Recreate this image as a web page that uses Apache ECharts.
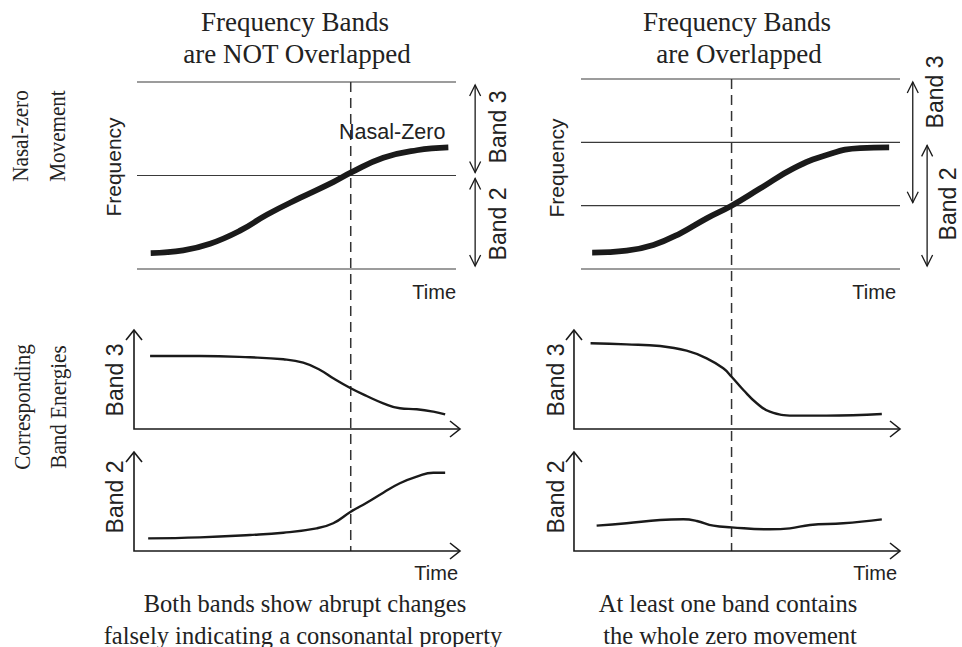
<!DOCTYPE html>
<html>
<head>
<meta charset="utf-8">
<script src="https://cdn.jsdelivr.net/npm/echarts@6/dist/echarts.min.js"></script>
<style>
  html, body { margin: 0; padding: 0; background: #fff; }
  #chart { width: 962px; height: 647px; }
</style>
</head>
<body>
<div id="chart"></div>
<script>
// ---- Data -------------------------------------------------------------
// Time runs 0..100 across each frequency panel.

// Left column: frequency bands are NOT overlapped (frequency in band units 0..2)
const zeroTimeA = [4.3, 14.5, 22.9, 32.3, 40.7, 51.1, 61.5, 67.0, 77.2, 87.7, 97.6];
const zeroFreqA = [0.17, 0.20, 0.27, 0.41, 0.58, 0.76, 0.93, 1.03, 1.19, 1.27, 1.30];
const bandEdgesA = [0, 1, 2];
const band2RangeA = [0, 1];
const band3RangeA = [1, 2];
const zeroCrossA = 67.0;

// Right column: frequency bands are overlapped (frequency in band units 0..3)
const zeroTimeB = [3.5, 14.3, 22.7, 31.0, 39.4, 47.2, 56.1, 66.6, 77.0, 87.5, 96.6];
const zeroFreqB = [0.26, 0.29, 0.38, 0.56, 0.80, 1.00, 1.27, 1.59, 1.80, 1.91, 1.92];
const bandEdgesB = [0, 1, 2, 3];
const band2RangeB = [0, 2];
const band3RangeB = [1, 3];
const zeroCrossB = 47.2;

// Band energies (0..1), left column
const energyTimeA3 = [4.1, 19.7, 35.4, 45.9, 52.1, 57.4, 61.5, 67.0, 72.0, 77.2, 82.4, 87.7, 92.9, 96.6];
const energyA3     = [0.737, 0.737, 0.724, 0.704, 0.67, 0.596, 0.512, 0.411, 0.333, 0.26, 0.209, 0.199, 0.175, 0.148];
const energyTimeA2 = [3.5, 19.7, 35.4, 45.9, 56.3, 61.5, 67.0, 72.0, 77.2, 82.4, 87.7, 92.9, 96.6];
const energyA2     = [0.128, 0.138, 0.162, 0.185, 0.229, 0.28, 0.397, 0.488, 0.589, 0.684, 0.751, 0.791, 0.791];

// Band energies (0..1), right column
const energyTimeB3 = [3.0, 14.3, 24.8, 33.1, 39.4, 44.6, 47.2, 50.9, 55.1, 59.2, 66.6, 77.0, 94.3];
const energyB3     = [0.866, 0.855, 0.838, 0.791, 0.714, 0.613, 0.528, 0.394, 0.26, 0.175, 0.135, 0.135, 0.152];
const energyTimeB2 = [4.9, 14.3, 24.8, 32.1, 36.3, 41.5, 47.2, 59.2, 65.5, 71.8, 82.2, 94.3];
const energyB2     = [0.256, 0.28, 0.313, 0.32, 0.303, 0.256, 0.239, 0.219, 0.229, 0.263, 0.28, 0.32];

// ---- Layout -----------------------------------------------------------
const INK = '#1a1a1a';
const RULE = '#3a3a3a';
const SERIF = '"Liberation Serif", "Times New Roman", serif';
const SANS = '"Liberation Sans", Arial, sans-serif';

const PX_PER_T = 3.19;                 // horizontal scale shared by every panel
const columns = {
  A: { t0: 137, axisT: -0.94, tipT: 101.25 },   // pixel of t = 0, energy-axis origin and tip
  B: { t0: 581, axisT: -2.2,  tipT: 100 }
};
// each panel: column, x range, y range, pixel row of y = 0 and vertical scale
function panel(col, x, y, yZeroPx, pxPerY) {
  const c = columns[col];
  return {
    col: col, x: x, y: y,
    left: c.t0 + x[0] * PX_PER_T,
    width: (x[1] - x[0]) * PX_PER_T,
    top: yZeroPx - y[1] * pxPerY,
    height: (y[1] - y[0]) * pxPerY
  };
}
const ePad = [-0.1, 1.03];
const grids = [
  panel('A', [0, 112], [0, 2], 269, 93.5),
  panel('B', [0, 112], [0, 3], 269, 63.33),
  panel('A', [columns.A.axisT - 4, columns.A.tipT + 0.5], ePad, 429, 99),
  panel('A', [columns.A.axisT - 4, columns.A.tipT + 0.5], ePad, 551, 99),
  panel('B', [columns.B.axisT - 4, columns.B.tipT + 0.5], ePad, 429, 99),
  panel('B', [columns.B.axisT - 4, columns.B.tipT + 0.5], ePad, 551, 99)
];
// horizontal position (time units) of the band arrows beside each frequency panel
const bandArrowX = { A: { b3: 106, b2: 106 }, B: { b3: 104, b2: 108.5 } };

const zip = (xs, ys) => xs.map((x, i) => [x, ys[i]]);
const perPx = g => [(g.x[1] - g.x[0]) / g.width, (g.y[1] - g.y[0]) / g.height];

// open chevron arrowhead, sizes given in pixels
function chevron(gi, tip, dir, len, half) {
  const [kx, ky] = perPx(grids[gi]);
  const [x, y] = tip;
  if (dir === 'right') return [[x - len * kx, y + half * ky], [x, y], [x - len * kx, y - half * ky]];
  if (dir === 'up')    return [[x - half * kx, y - len * ky], [x, y], [x + half * kx, y - len * ky]];
  return [[x - half * kx, y + len * ky], [x, y], [x + half * kx, y + len * ky]];
}

function poly(gi, pts, width, color) {
  return {
    type: 'line', xAxisIndex: gi, yAxisIndex: gi, data: pts,
    symbol: 'none', showSymbol: false, clip: false, silent: true,
    lineStyle: { color: color || INK, width: width, join: 'miter' }, z: 3
  };
}

function curve(gi, pts, width) {
  return {
    type: 'line', xAxisIndex: gi, yAxisIndex: gi, data: pts,
    smooth: 0.45, symbol: 'none', showSymbol: false, silent: true,
    lineStyle: { color: INK, width: width, cap: 'butt' }, z: 4
  };
}

// double-headed band arrow beside a frequency panel
function bandArrow(gi, x, range) {
  const ky = perPx(grids[gi])[1];
  const lo = range[0] + 3 * ky, hi = range[1] - 3 * ky;
  return [
    poly(gi, [[x, lo], [x, hi]], 1.3),
    poly(gi, chevron(gi, [x, hi], 'up', 11, 5.5), 1.3),
    poly(gi, chevron(gi, [x, lo], 'down', 11, 5.5), 1.3)
  ];
}

// horizontal band edges across a frequency panel
function bandEdgeLines(gi, edges) {
  return edges.map(v => poly(gi, [[0, v], [100, v]], 1.2, RULE));
}

// L-shaped energy axes with open arrowheads
function energyAxes(gi) {
  const c = columns[grids[gi].col];
  return [
    poly(gi, [[c.axisT, 1], [c.axisT, 0], [c.tipT, 0]], 1.6),
    poly(gi, chevron(gi, [c.tipT, 0], 'right', 10, 8), 1.6),
    poly(gi, chevron(gi, [c.axisT, 1], 'up', 10, 8), 1.6)
  ];
}

const hiddenAxis = (g, gi, key) => ({
  type: 'value', gridIndex: gi, min: g[key][0], max: g[key][1], show: false,
  axisLine: { show: false }, axisTick: { show: false }, axisLabel: { show: false }, splitLine: { show: false }
});

const series = [
  curve(0, zip(zeroTimeA, zeroFreqA), 5.8),
  curve(1, zip(zeroTimeB, zeroFreqB), 5.8),
  curve(2, zip(energyTimeA3, energyA3), 2.4),
  curve(3, zip(energyTimeA2, energyA2), 2.4),
  curve(4, zip(energyTimeB3, energyB3), 2.4),
  curve(5, zip(energyTimeB2, energyB2), 2.4),
  ...bandEdgeLines(0, bandEdgesA),
  ...bandEdgeLines(1, bandEdgesB),
  ...bandArrow(0, bandArrowX.A.b3, band3RangeA),
  ...bandArrow(0, bandArrowX.A.b2, band2RangeA),
  ...bandArrow(1, bandArrowX.B.b3, band3RangeB),
  ...bandArrow(1, bandArrowX.B.b2, band2RangeB),
  ...energyAxes(2), ...energyAxes(3), ...energyAxes(4), ...energyAxes(5)
];

// ---- Text -------------------------------------------------------------
function txt(text, x, y, font, opts) {
  opts = opts || {};
  return {
    type: 'text', x: x, y: y, rotation: opts.rot ? Math.PI / 2 : 0,
    scaleX: opts.squeeze || 1, silent: true, z: 10,
    style: {
      text: text, font: font, fill: '#222',
      textAlign: opts.align || 'center', textVerticalAlign: 'middle'
    }
  };
}
const titleFont = '27px ' + SERIF;
const rowFont = '24px ' + SERIF;
const capFont = '24.5px ' + SERIF;
const axFont = '21px ' + SANS;
const zeroFont = '21.5px ' + SANS;
const bandFont = '23px ' + SANS;
const timeFont = '20px ' + SANS;
const rowText = { rot: true, squeeze: 0.88 };

const texts = [
  txt('Frequency Bands', 295, 22, titleFont),
  txt('are NOT Overlapped', 297, 54, titleFont),
  txt('Frequency Bands', 737, 22, titleFont),
  txt('are Overlapped', 739, 54, titleFont),

  txt('Nasal-zero', 20, 136, rowFont, rowText),
  txt('Movement', 57, 136, rowFont, rowText),
  txt('Corresponding', 22, 407, rowFont, rowText),
  txt('Band Energies', 58, 407, rowFont, rowText),

  txt('Both bands show abrupt changes', 305, 603, capFont),
  txt('falsely indicating a consonantal property', 303, 635, capFont),
  txt('At least one band contains', 728, 603, capFont),
  txt('the whole zero movement', 730, 635, capFont),

  txt('Frequency', 113, 167, axFont, { rot: true }),
  txt('Frequency', 556, 168, axFont, { rot: true }),
  txt('Nasal-Zero', 339, 132, zeroFont, { align: 'left' }),

  txt('Time', 456, 292, timeFont, { align: 'right' }),
  txt('Time', 896, 292, timeFont, { align: 'right' }),
  txt('Time', 458, 573, timeFont, { align: 'right' }),
  txt('Time', 897, 573, timeFont, { align: 'right' }),

  txt('Band 3', 498, 127, bandFont, { rot: true }),
  txt('Band 2', 498, 224, bandFont, { rot: true }),
  txt('Band 3', 935, 92, bandFont, { rot: true }),
  txt('Band 2', 948, 204, bandFont, { rot: true }),
  txt('Band 3', 115, 380, bandFont, { rot: true }),
  txt('Band 2', 115, 497, bandFont, { rot: true }),
  txt('Band 3', 556, 380, bandFont, { rot: true }),
  txt('Band 2', 556, 497, bandFont, { rot: true })
];

// ---- Chart ------------------------------------------------------------
const chart = echarts.init(document.getElementById('chart'), null, { renderer: 'svg' });
chart.setOption({
  animation: false,
  backgroundColor: '#fff',
  grid: grids.map(g => ({ left: g.left, top: g.top, width: g.width, height: g.height, containLabel: false })),
  xAxis: grids.map((g, gi) => hiddenAxis(g, gi, 'x')),
  yAxis: grids.map((g, gi) => hiddenAxis(g, gi, 'y')),
  series: series,
  graphic: texts
});

// dashed marker at the moment the zero crosses a band edge, running down
// through the frequency panel and both energy panels of its column
function crossing(t, topGrid, topVal, bottomGrid) {
  const p1 = chart.convertToPixel({ gridIndex: topGrid }, [t, topVal]);
  const p2 = chart.convertToPixel({ gridIndex: bottomGrid }, [t, 0]);
  return {
    type: 'line', silent: true, z: 2,
    shape: { x1: p1[0], y1: p1[1], x2: p2[0], y2: p2[1] },
    style: { stroke: '#333', lineWidth: 1.5, lineDash: [10, 6] }
  };
}
chart.setOption({
  graphic: texts.concat([
    crossing(zeroCrossA, 0, bandEdgesA[bandEdgesA.length - 1], 3),
    crossing(zeroCrossB, 1, bandEdgesB[bandEdgesB.length - 1], 5)
  ])
});
</script>
</body>
</html>
